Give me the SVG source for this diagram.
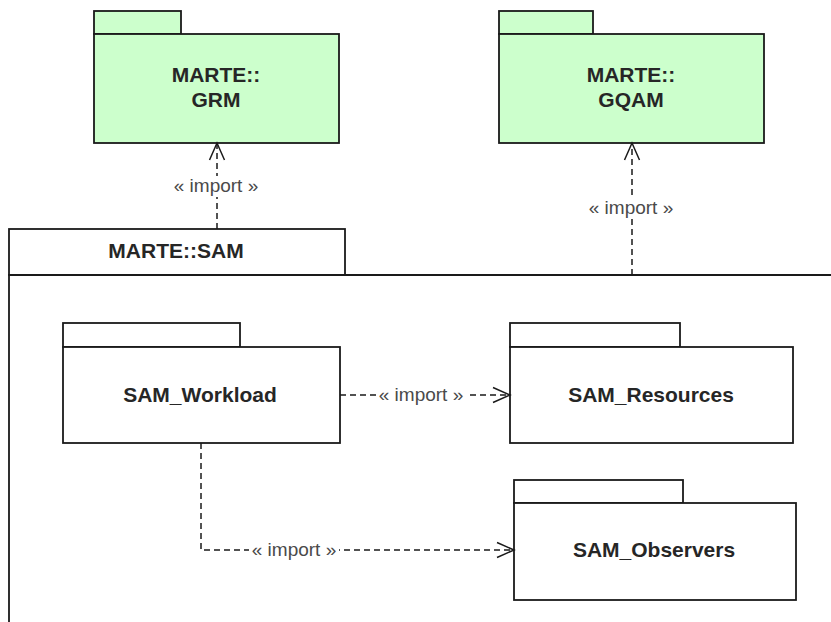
<svg xmlns="http://www.w3.org/2000/svg" width="831" height="622" viewBox="0 0 831 622">
<style>
.pkg{fill:#ffffff;stroke:#1a1a1a;stroke-width:1.8}
.ext{fill:#ccffcc;stroke:#1a1a1a;stroke-width:1.8}
.name{font-family:"Liberation Sans",Arial,sans-serif;font-weight:bold;font-size:21px;fill:#262626;text-anchor:middle}
.lbl{font-family:"Liberation Sans",Arial,sans-serif;font-size:19px;fill:#4a4a4a;text-anchor:middle}
.dep{fill:none;stroke:#1a1a1a;stroke-width:1.5;stroke-dasharray:6 4}
.bg{fill:#ffffff}
</style>
<defs>
<marker id="open" viewBox="0 0 20 20" refX="18" refY="10" markerWidth="20" markerHeight="20" markerUnits="userSpaceOnUse" orient="auto">
<path d="M1,2.5 L18,10 L1,17.5" fill="none" stroke="#1a1a1a" stroke-width="1.5"/>
</marker>
</defs>
<rect width="831" height="622" fill="#ffffff"/>
<g id="SAM">
<rect class="pkg" x="9" y="229" width="336" height="46"/>
<path class="pkg" d="M9,640 L9,275 L840,275" fill="none"/>
<text class="name" x="176" y="258">MARTE::SAM</text>
</g>
<g id="GRM">
<rect class="ext" x="94" y="11" width="87" height="23"/>
<rect class="ext" x="94" y="34" width="245" height="109"/>
<text class="name" x="216" y="82">MARTE::</text>
<text class="name" x="216" y="107">GRM</text>
</g>
<g id="GQAM">
<rect class="ext" x="499" y="11" width="94" height="23"/>
<rect class="ext" x="499" y="34" width="265" height="109"/>
<text class="name" x="631" y="82">MARTE::</text>
<text class="name" x="631" y="107">GQAM</text>
</g>
<g id="SAM_Workload">
<rect class="pkg" x="63" y="323" width="177" height="24"/>
<rect class="pkg" x="63" y="347" width="277" height="96"/>
<text class="name" x="200" y="402">SAM_Workload</text>
</g>
<g id="SAM_Resources">
<rect class="pkg" x="510" y="323" width="170" height="24"/>
<rect class="pkg" x="510" y="347" width="283" height="96"/>
<text class="name" x="651" y="402">SAM_Resources</text>
</g>
<g id="SAM_Observers">
<rect class="pkg" x="514" y="480" width="169" height="23"/>
<rect class="pkg" x="514" y="503" width="282" height="97"/>
<text class="name" x="654" y="557">SAM_Observers</text>
</g>
<g id="connectors">
<path class="dep" d="M217,229 L217,143" marker-end="url(#open)"/>
<rect class="bg" x="172" y="176" width="90" height="21"/>
<text class="lbl" x="216" y="192">« import »</text>
<path class="dep" d="M632,275 L632,143" marker-end="url(#open)"/>
<rect class="bg" x="587" y="198" width="90" height="21"/>
<text class="lbl" x="631" y="214">« import »</text>
<path class="dep" d="M340,395 L510,395" marker-end="url(#open)"/>
<rect class="bg" x="376" y="384" width="90" height="21"/>
<text class="lbl" x="421" y="401">« import »</text>
<path class="dep" d="M201,443 L201,550 L514,550" marker-end="url(#open)"/>
<rect class="bg" x="249" y="539" width="90" height="21"/>
<text class="lbl" x="294" y="556">« import »</text>
</g>
</svg>
